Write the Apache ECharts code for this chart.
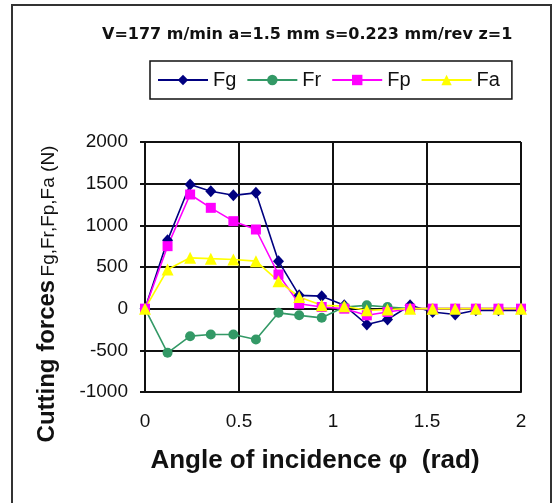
<!DOCTYPE html>
<html>
<head>
<meta charset="utf-8">
<script src="https://cdn.jsdelivr.net/npm/echarts@6/dist/echarts.min.js"></script>
<style>
  html, body { margin: 0; padding: 0; background: #fff; }
  #chart { width: 553px; height: 503px; }
</style>
</head>
<body>
<div id="chart"></div>
<script>
// angle of incidence (rad)
const angles = [0, 0.12, 0.24, 0.35, 0.47, 0.59, 0.71, 0.82, 0.94, 1.06, 1.18, 1.29, 1.41, 1.53, 1.65, 1.76, 1.88, 2.0];
// cutting force components (N)
const fg = [0, 820, 1490, 1410, 1360, 1390, 570, 160, 150, 40, -190, -130, 40, -40, -70, -20, -20, -20];
const fr = [0, -530, -330, -310, -310, -370, -50, -80, -110, 20, 40, 20, 0, 0, 0, 0, 0, 0];
const fp = [0, 750, 1370, 1210, 1050, 950, 410, 60, 20, 0, -80, -40, 0, 0, 0, 0, 0, 0];
const fa = [0, 470, 610, 600, 590, 570, 330, 140, 40, 30, -20, -10, 0, 0, 0, 0, 0, 0];

const seriesNames = ['Fg', 'Fr', 'Fp', 'Fa'];
const seriesValues = [fg, fr, fp, fa];
const colors = ['#000080', '#339966', '#ff00ff', '#ffff00'];
const symbols = ['diamond', 'circle', 'rect', 'triangle'];
const symbolSizes = [[11, 12], 10, 10, 12];

const FONT = '"Liberation Sans", Arial, sans-serif';

const chart = echarts.init(document.getElementById('chart'));

const series = seriesNames.map((name, k) => ({
    name: name,
    type: 'line',
    data: angles.map((a, i) => [a, seriesValues[k][i]]),
    symbol: symbols[k],
    symbolSize: symbolSizes[k],
    showAllSymbol: true,
    lineStyle: {color: colors[k], width: 1.6},
    itemStyle: {color: colors[k]},
    animation: false
}));

chart.setOption({
    backgroundColor: '#fff',
    animation: false,
    textStyle: {fontFamily: FONT},
    graphic: [{
        type: 'rect',
        shape: {x: 12, y: 5, width: 539, height: 520},
        style: {fill: 'none', stroke: '#333', lineWidth: 2},
        silent: true
    }],
    title: {
        text: 'V=177 m/min a=1.5 mm s=0.223 mm/rev z=1',
        left: 102,
        top: 27,
        padding: 0,
        textStyle: {
            fontFamily: '"DejaVu Sans", sans-serif',
            fontWeight: 'bold',
            fontSize: 16,
            color: '#111'
        }
    },
    legend: {
        data: seriesNames,
        left: 150,
        top: 61,
        padding: [9, 12, 9, 7],
        itemGap: 10,
        itemWidth: 50,
        itemHeight: 13,
        borderColor: '#111',
        borderWidth: 1.5,
        textStyle: {fontSize: 20, color: '#111', fontFamily: FONT}
    },
    grid: {left: 145, right: 32, top: 142, bottom: 111, containLabel: false},
    xAxis: {
        type: 'value',
        min: 0,
        max: 2,
        interval: 0.5,
        name: 'Angle of incidence \u03c6  (rad)',
        nameLocation: 'middle',
        nameGap: 56,
        nameTextStyle: {
            fontFamily: FONT,
            fontSize: 26,
            fontWeight: 'bold',
            color: '#111',
            padding: [0, 36, 0, 0]
        },
        axisLine: {show: true, onZero: false, lineStyle: {color: '#111', width: 2}},
        axisTick: {show: false},
        axisLabel: {fontSize: 19, color: '#111', margin: 20, fontFamily: FONT},
        splitLine: {show: true, lineStyle: {color: '#111', width: 2}}
    },
    yAxis: {
        type: 'value',
        min: -1000,
        max: 2000,
        interval: 500,
        name: '{a|Cutting forces} {b|Fg,Fr,Fp,Fa (N)}',
        nameLocation: 'middle',
        nameGap: 86,
        nameRotate: 90,
        nameTextStyle: {
            padding: [0, 54, 0, 0],
            rich: {
                a: {fontFamily: FONT, fontSize: 24, fontWeight: 'bold', color: '#111', verticalAlign: 'bottom'},
                b: {fontFamily: FONT, fontSize: 19, color: '#111', verticalAlign: 'bottom', padding: [0, 0, 1, 0]}
            }
        },
        axisLine: {show: true, lineStyle: {color: '#111', width: 2}},
        axisTick: {show: true, inside: false, length: 5, lineStyle: {color: '#111', width: 2}},
        axisLabel: {fontSize: 19, color: '#111', margin: 17, fontFamily: FONT, formatter: v => String(v)},
        splitLine: {show: true, lineStyle: {color: '#111', width: 2}}
    },
    series: series
});
</script>
</body>
</html>
